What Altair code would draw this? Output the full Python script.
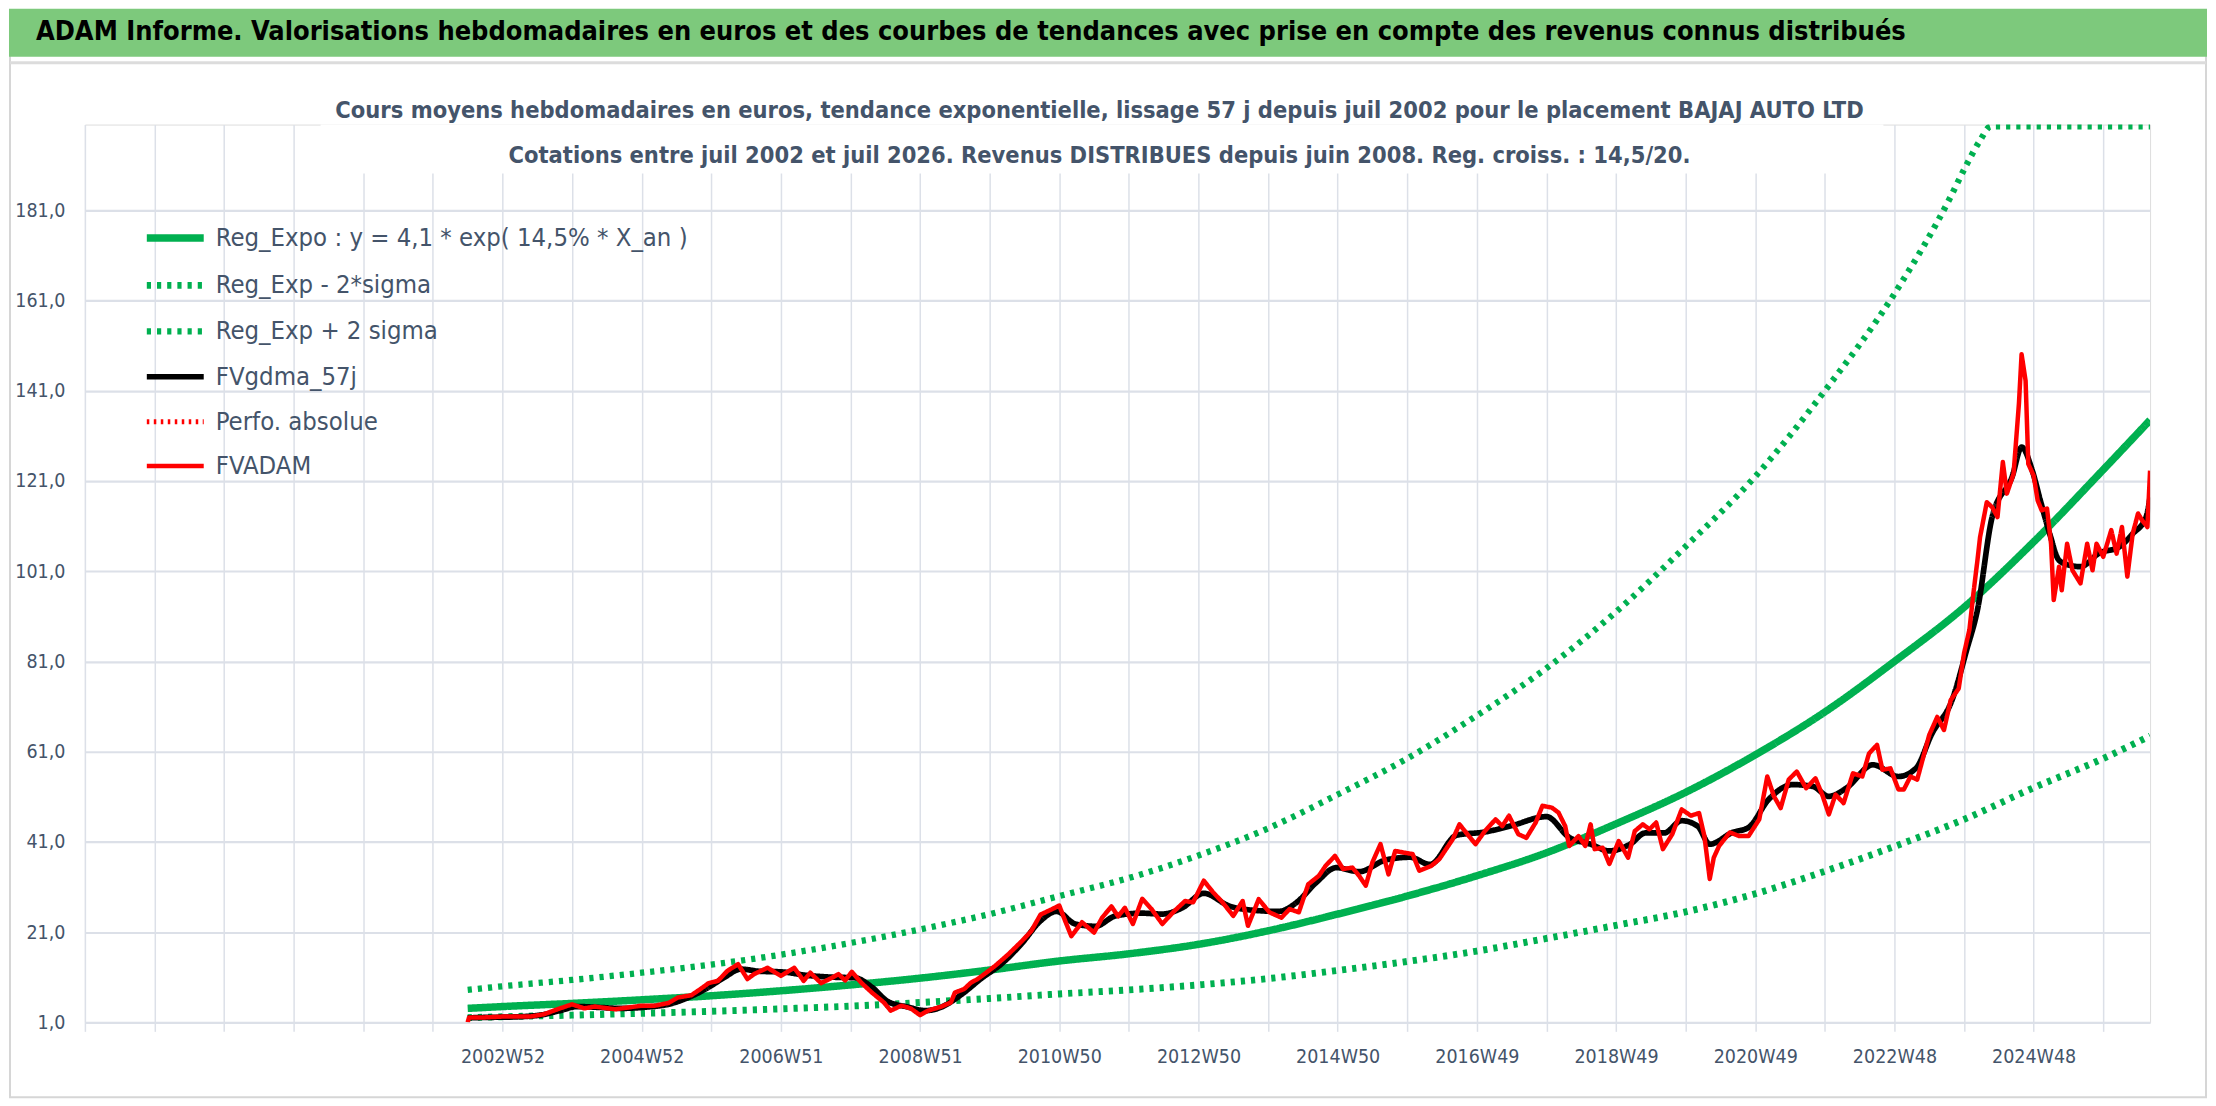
import altair as alt
import pandas as pd

FONT = "DejaVu Sans Condensed, sans-serif"
TXT = "#44546A"
GRID = "#DCE0E8"

header_text = ("ADAM Informe. Valorisations hebdomadaires en euros et des courbes de tendances "
               "avec prise en compte des revenus connus distribués")
title_lines = [
    "Cours moyens hebdomadaires en euros, tendance exponentielle, lissage 57 j depuis juil 2002 pour le placement BAJAJ AUTO LTD",
    "Cotations entre juil 2002 et juil 2026. Revenus DISTRIBUES depuis juin 2008. Reg. croiss. : 14,5/20.",
]

series = [
    "Reg_Expo : y = 4,1 * exp( 14,5% *  X_an )",
    "Reg_Exp - 2*sigma",
    "Reg_Exp + 2 sigma",
    "FVgdma_57j",
    "Perfo. absolue",
    "FVADAM",
]
colors = ["#00B050", "#00B050", "#00B050", "#000000", "#FF0000", "#FF0000"]
dashes = [[1, 0], [4.2, 6], [4.2, 6], [1, 0], [2.5, 4.5], [1, 0]]
widths = [7.5, 4.5, 4.5, 5, 2.5, 6.5]

# x axis: week index (0 = left edge of the category axis)
label_weeks = [312, 416, 520, 624, 728, 832, 936, 1040, 1144, 1248, 1352, 1456]
week_labels = ["2002W52", "2004W52", "2006W51", "2008W51", "2010W50", "2012W50",
               "2014W50", "2016W49", "2018W49", "2020W49", "2022W48", "2024W48"]
grid_weeks = list(range(0, 1509, 52))
y_ticks = [1, 21, 41, 61, 81, 101, 121, 141, 161, 181]

# Reg_Expo and the sigma bands
reg_weeks = [286, 312, 364, 416, 468, 520, 572, 624, 676, 728, 780, 832, 884, 936, 988,
             1040, 1092, 1144, 1196, 1248, 1300, 1352, 1404, 1456, 1508, 1543]
reg_values = [4.1, 4.5, 5.2, 6.0, 6.9, 8.0, 9.3, 10.8, 12.6, 14.6, 16.2, 18.3, 21.3, 25.0, 29.0,
              33.5, 38.6, 45.0, 52.0, 60.3, 69.8, 81.0, 93.0, 107.5, 123.5, 134.5]
low_values = [2.05, 2.25, 2.6, 3.0, 3.45, 4.0, 4.6, 5.4, 6.3, 7.3, 8.2, 9.3, 10.7, 12.5, 14.5,
              16.8, 19.6, 22.5, 25.5, 29.5, 34.5, 40.0, 46.0, 53.0, 59.5, 64.5]
high_weeks = [286, 312, 364, 416, 468, 520, 572, 624, 676, 728, 780, 832, 884, 936, 988,
              1040, 1092, 1144, 1196, 1248, 1300, 1352, 1394, 1405, 1416, 1424, 1543]
high_values = [8.2, 9.0, 10.4, 12.0, 13.8, 16.0, 18.6, 21.6, 25.0, 29.0, 33.0, 38.0, 44.0, 51.5,
               59.5, 69.0, 79.5, 92.0, 106.5, 122.0, 141.0, 162.5, 184.0, 190.6, 196.5, 199.6, 199.6]

# FVgdma_57j (smoothed)
gdma_weeks = [286, 300, 320, 340, 355, 368, 385, 400, 420, 436, 450, 465, 478, 490, 505, 520,
              540, 560, 575, 588, 600, 615, 628, 640, 655, 670, 685, 700, 714, 726, 740, 755,
              770, 790, 805, 820, 836, 855, 875, 892, 905, 920, 935, 952, 972, 990, 1005, 1025,
              1046, 1066, 1092, 1109, 1125, 1139, 1155, 1166, 1180, 1193, 1205, 1214, 1231, 1243,
              1258, 1276, 1291, 1303, 1316, 1336, 1355, 1368, 1380, 1395, 1406, 1414, 1425, 1440,
              1447, 1455, 1461, 1468, 1475, 1483, 1491, 1505, 1520, 1530, 1540, 1543]
gdma_values = [2.0, 2.1, 2.2, 2.6, 3.6, 4.5, 4.3, 4.1, 4.4, 5.0, 6.4, 8.6, 11.0, 12.8, 12.3, 12.2,
               11.4, 11.0, 10.9, 8.8, 5.6, 4.4, 3.6, 4.4, 7.2, 10.8, 14.0, 18.5, 23.5, 25.6, 22.8, 22.3,
               24.6, 25.2, 25.0, 26.4, 29.6, 26.8, 25.8, 25.6, 27.5, 32.0, 35.3, 34.4, 37.0, 37.6, 36.0, 42.5,
               43.2, 44.6, 46.6, 42.0, 40.5, 39.0, 40.6, 43.0, 43.0, 45.7, 44.5, 40.5, 43.1, 44.2,
               50.4, 53.7, 53.3, 51.1, 52.9, 58.1, 55.5, 57.3, 65.0, 72.4, 83.6, 92.4, 113.0, 122.0,
               128.5, 123.3, 116.7, 109.3, 103.4, 102.3, 102.0, 105.0, 106.4, 109.3, 113.0, 117.4]

# FVADAM (weekly valuation)
adam_weeks = [286, 287, 299, 313, 333, 343, 353, 364, 373, 381, 396, 406, 416, 426, 436, 443,
              453, 460, 466, 473, 480, 488, 495, 500, 510, 520, 530, 537, 542, 550, 557, 563,
              568, 573, 580, 588, 597, 602, 610, 617, 624, 630, 640, 647, 650, 657, 662, 667,
              672, 680, 690, 700, 707, 714, 722, 728, 732, 737, 745, 754, 760, 767, 772, 777,
              783, 790, 797, 805, 813, 822, 828, 836, 843, 850, 858, 865, 869, 877, 885, 894,
              900, 907, 914, 922, 927, 934, 940, 947, 952, 957, 962, 968, 974, 979, 986, 992,
              997, 1006, 1012, 1022, 1027, 1034, 1039, 1046, 1054, 1059, 1064, 1071, 1077, 1084,
              1089, 1096, 1101, 1106, 1109, 1116, 1121, 1125, 1128, 1134, 1139, 1146, 1153, 1158,
              1164, 1169, 1174, 1179, 1186, 1193, 1200, 1206, 1210, 1214, 1217, 1221, 1229, 1236,
              1243, 1251, 1257, 1262, 1267, 1273, 1279, 1286, 1293, 1298, 1303, 1308, 1314, 1321,
              1328, 1333, 1339, 1343, 1349, 1355, 1359, 1364, 1369, 1373, 1378, 1384, 1389, 1394,
              1400, 1404, 1408, 1411, 1414, 1416, 1421, 1425, 1429, 1433, 1436, 1441, 1445, 1447,
              1450, 1452, 1456, 1459, 1462, 1466, 1469, 1471, 1475, 1477, 1481, 1485, 1491, 1496,
              1500, 1503, 1508, 1514, 1518, 1522, 1526, 1530, 1534, 1537, 1541, 1543]
adam_values = [1.0, 2.1, 2.1, 2.3, 2.3, 2.8, 3.9, 5.0, 4.1, 4.5, 3.9, 4.3, 4.7, 4.7, 5.3, 6.5,
               7.0, 8.4, 9.7, 10.2, 12.4, 13.9, 10.6, 11.7, 13.1, 11.3, 13.1, 10.2, 12.0, 9.7, 10.7, 11.7,
               10.3, 12.2, 9.8, 7.6, 5.4, 3.6, 4.7, 4.1, 2.6, 3.6, 4.5, 5.4, 7.6, 8.4, 9.8, 10.6,
               11.7, 13.5, 16.1, 19.0, 21.2, 24.9, 26.0, 26.9, 23.8, 20.1, 23.2, 20.9, 24.2, 26.7, 24.5, 26.4,
               22.8, 28.4, 26.1, 22.8, 25.4, 27.9, 27.6, 32.4, 29.8, 27.6, 24.6, 27.9, 22.4, 28.3, 25.4, 24.2,
               26.1, 25.4, 31.6, 33.5, 35.7, 37.9, 35.0, 35.3, 33.5, 31.3, 36.5, 40.5, 33.8, 39.0, 38.6, 38.3,
               34.6, 35.7, 37.2, 41.6, 44.9, 42.3, 40.5, 43.4, 46.0, 44.5, 46.8, 42.7, 41.9, 45.3,
               49.0, 48.6, 47.5, 44.5, 40.1, 42.3, 40.1, 44.9, 39.4, 39.7, 36.1, 41.2, 37.5, 43.4,
               44.9, 43.8, 45.3, 39.4, 42.7, 48.2, 46.8, 47.4, 42.3, 32.8, 37.5, 40.1, 43.1, 42.3,
               42.3, 46.0, 55.5, 51.1, 48.5, 54.8, 56.6, 52.9, 55.1, 51.5, 47.1, 51.5, 49.6, 56.2,
               55.5, 60.6, 62.5, 57.0, 57.3, 52.6, 52.6, 55.5, 54.8, 59.2, 64.7, 68.7, 65.8, 72.4,
               75.0, 82.8, 88.0, 96.1, 103.4, 108.6, 116.3, 115.2, 113.0, 125.2, 118.2, 122.6, 138.1, 149.1,
               143.2, 124.8, 122.2, 116.7, 114.5, 114.9, 107.1, 94.6, 102.0, 96.8, 107.1, 101.2, 98.3, 107.1,
               101.2, 107.1, 104.2, 110.1, 104.9, 110.8, 99.8, 109.3, 113.8, 112.3, 110.8, 123.3]

rows = []
for w, v in zip(reg_weeks, reg_values):
    rows.append({"semaine": w, "valeur": v, "serie": series[0]})
for w, v in zip(reg_weeks, low_values):
    rows.append({"semaine": w, "valeur": v, "serie": series[1]})
for w, v in zip(high_weeks, high_values):
    rows.append({"semaine": w, "valeur": v, "serie": series[2]})
for w, v in zip(gdma_weeks, gdma_values):
    rows.append({"semaine": w, "valeur": v, "serie": series[3]})
for w, v in zip(adam_weeks, adam_values):
    rows.append({"semaine": w, "valeur": v, "serie": series[5]})
df = pd.DataFrame(rows)

W, H = 2068, 899

xexpr = (f"indexof({label_weeks}, datum.value) >= 0 ? "
         f"{week_labels}[indexof({label_weeks}, datum.value)] : ''")

x_enc = alt.X("semaine:Q",
              scale=alt.Scale(domain=[0, 1543], nice=False, zero=False),
              axis=alt.Axis(values=grid_weeks, labelExpr=xexpr, title=None, grid=True,
                            gridColor=GRID, gridWidth=1.5, ticks=True, tickSize=9,
                            tickColor=GRID, tickWidth=1.5, domain=False,
                            labelFont=FONT, labelFontSize=19.5, labelColor=TXT,
                            labelPadding=16, labelOverlap=False, labelFlush=False))
y_enc = alt.Y("valeur:Q",
              scale=alt.Scale(domain=[1, 200], nice=False, zero=False),
              axis=alt.Axis(values=y_ticks, labelExpr="replace(format(datum.value, '.1f'), '.', ',')",
                            title=None, grid=True, gridColor=GRID, gridWidth=2.2, ticks=False,
                            tickSize=0, domain=False, labelFont=FONT, labelFontSize=19.5,
                            labelColor=TXT, labelPadding=20))

legend = alt.Legend(title=None, orient="none", legendX=58, legendY=81, symbolType="stroke",
                    symbolSize=3249, labelFont=FONT, labelFontSize=25.5, labelColor=TXT,
                    labelOffset=8, rowPadding=0, padding=0, labelLimit=0)

color_enc = alt.Color("serie:N", scale=alt.Scale(domain=series, range=colors), legend=legend)
dash_enc = alt.StrokeDash("serie:N", scale=alt.Scale(domain=series, range=dashes), legend=legend)
width_enc = alt.StrokeWidth("serie:N", scale=alt.Scale(domain=series, range=widths), legend=legend)


def serie_layer(name, interp):
    return (alt.Chart(df).transform_filter(alt.datum.serie == name)
            .mark_line(strokeCap="butt", strokeJoin="round", interpolate=interp, clip=True)
            .encode(x=x_enc, y=y_enc, color=color_enc, strokeDash=dash_enc, strokeWidth=width_enc))


one = pd.DataFrame({"t": [header_text]})

frame = alt.Chart(one).mark_rect(filled=False, stroke="#D6D6D6", strokeWidth=2).encode(
    x=alt.value(-75), x2=alt.value(2124), y=alt.value(-110), y2=alt.value(974))
header_bar = alt.Chart(one).mark_rect(color="#7DC97C").encode(
    x=alt.value(-76), x2=alt.value(2125), y=alt.value(-116), y2=alt.value(-68))
header_line = alt.Chart(one).mark_rule(color="#DCDCDC", strokeWidth=3).encode(
    x=alt.value(-75), x2=alt.value(2124), y=alt.value(-62))
header_label = alt.Chart(one).mark_text(align="left", baseline="middle", font=FONT, fontSize=27,
                                         fontWeight="bold", color="#000000").encode(
    x=alt.value(-49), y=alt.value(-93), text="t:N")
mask = alt.Chart(one).mark_rect(color="white").encode(
    x=alt.value(236), x2=alt.value(1801), y=alt.value(0), y2=alt.value(49))
title = alt.Chart(one).mark_text(text=title_lines, lineHeight=45, align="center", baseline="middle",
                                  font=FONT, fontSize=23.5, fontWeight="bold", color=TXT).encode(
    x=alt.value(1016), y=alt.value(-14))

chart = alt.layer(
    frame, header_bar, header_line, header_label, mask,
    serie_layer(series[0], "monotone"),
    serie_layer(series[1], "monotone"),
    serie_layer(series[2], "monotone"),
    serie_layer(series[3], "monotone"),
    serie_layer(series[5], "linear"),
    title,
).properties(width=W, height=H, padding=0).configure_view(stroke=None).configure(background="white")

chart.save("out.html", embed_options={"renderer": "svg", "actions": False})
